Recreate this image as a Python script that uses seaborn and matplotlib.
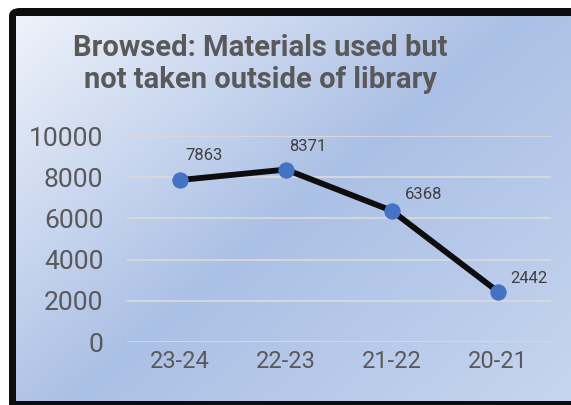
import numpy as np
import seaborn as sns
import matplotlib.pyplot as plt
from matplotlib.patches import FancyBboxPatch
from matplotlib.colors import LinearSegmentedColormap

# Data
seasons = ["23-24", "22-23", "21-22", "20-21"]
browsed = [7863, 8371, 6368, 2442]
y_ticks = [0, 2000, 4000, 6000, 8000, 10000]

W, H = 571, 405
sns.set_theme(style="white")
plt.rcParams["font.family"] = ["Roboto", "DejaVu Sans"]

fig = plt.figure(figsize=(W / 100, H / 100), dpi=100)
fig.patch.set_facecolor("white")


def px_box(x0, y0, x1, y1):
    # pixel box (top-left origin) -> figure fraction [l, b, w, h]
    return [x0 / W, (H - y1) / H, (x1 - x0) / W, (y1 - y0) / H]


# Black frame with rounded top-left corner
frame = FancyBboxPatch((9 / W, -0.05), 1.2, (H - 8) / H + 0.05,
                       boxstyle="round,pad=0,rounding_size=0.02",
                       transform=fig.transFigure, facecolor="#0d0d0d",
                       edgecolor="none", zorder=0)
fig.patches.append(frame)

# Gradient background
bg = fig.add_axes(px_box(16, 16, W, 401), zorder=0.5)
gx, gy = np.meshgrid(np.linspace(0, 1, 300), np.linspace(0, 1, 220))
t = (gx * 1.1 + gy * 0.9) / 2.0
cmap = LinearSegmentedColormap.from_list(
    "bg", [(0, "#eef2fa"), (0.5, "#abc0e5"), (1, "#c6d5ef")])
bg.imshow(t, cmap=cmap, aspect="auto", extent=(0, 1, 1, 0), vmin=0, vmax=1)
bg.axis("off")

# Main plot
ax = fig.add_axes(px_box(127, 136, 551, 342), zorder=1)
ax.set_facecolor("none")
sns.lineplot(x=seasons, y=browsed, sort=False, ax=ax, color="#0d0d0d",
             linewidth=4.2, marker="o", markersize=11,
             markerfacecolor="#4472c4", markeredgecolor="#4472c4")

ax.set_xlim(-0.5, len(seasons) - 0.5)
ax.set_ylim(0, 10000)
ax.set_yticks(y_ticks)
ax.set_yticklabels([str(v) for v in y_ticks])
ax.yaxis.grid(True, color="#d9d9d9", linewidth=1.3)
ax.set_axisbelow(True)
for s in ax.spines.values():
    s.set_visible(False)
ax.tick_params(axis="y", length=0, pad=17, labelsize=19, labelcolor="#595959")
ax.tick_params(axis="x", length=0, pad=6, labelsize=17, labelcolor="#595959")
ax.set_xlabel("")
ax.set_ylabel("")

# Data labels
label_offsets = [(4, 12), (2, 11), (9, 6), (9, 4)]
for i, (v, off) in enumerate(zip(browsed, label_offsets)):
    ax.annotate(str(v), xy=(i, v), xytext=off, textcoords="offset points",
                ha="left", va="bottom", fontsize=12, color="#404040")

fig.text(260 / W, 1 - 64 / H,
         "Browsed: Materials used but\nnot taken outside of library",
         ha="center", va="center", fontsize=21, fontweight="bold",
         color="#595959", linespacing=1.15)

fig.savefig("out.png", dpi=100)
